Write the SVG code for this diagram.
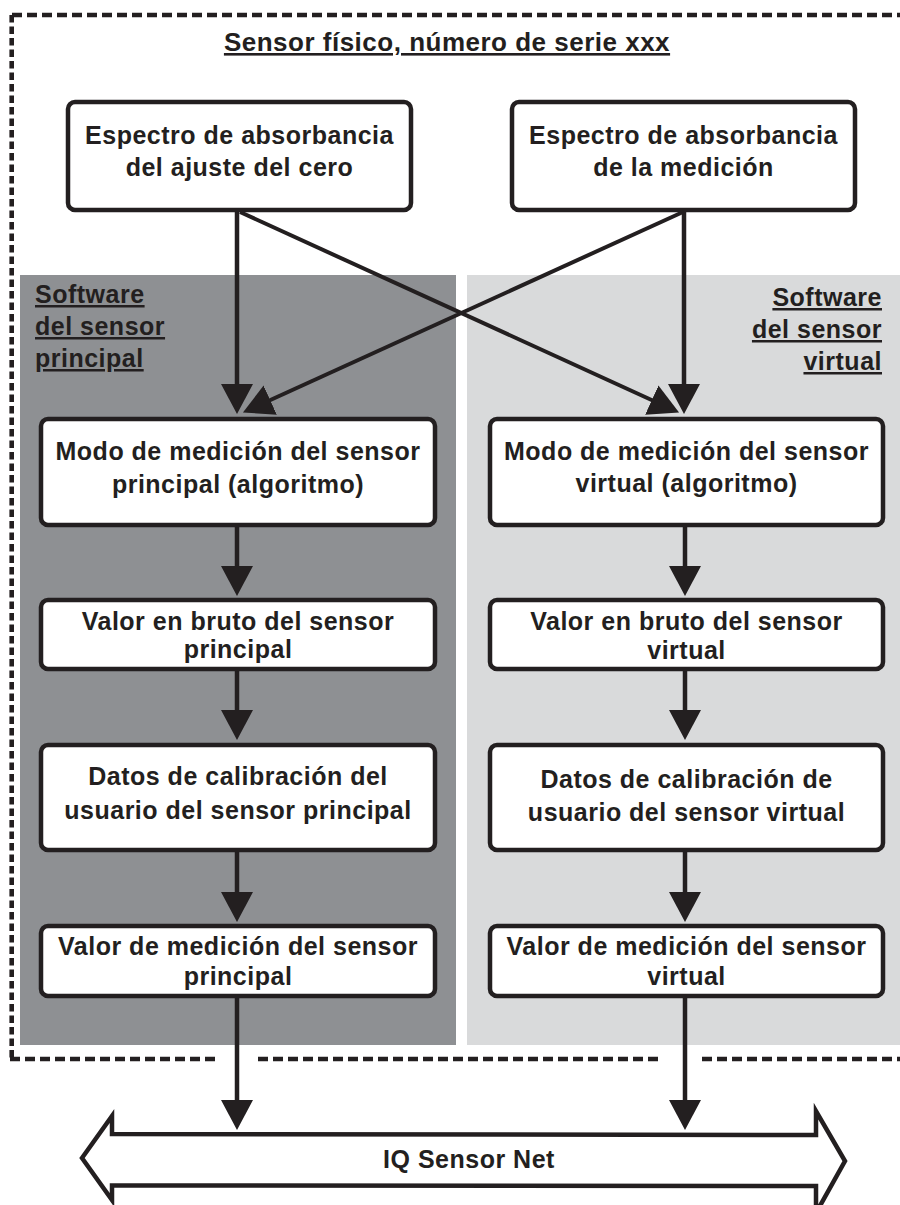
<svg xmlns="http://www.w3.org/2000/svg" width="900" height="1205" viewBox="0 0 900 1205">
<style>
text{font-family:"Liberation Sans",Arial,Helvetica,sans-serif;font-weight:bold;fill:#231f20;font-size:25px;letter-spacing:0.5px}
.c{text-anchor:middle}
.u{text-decoration:underline}
.box{fill:#fff;stroke:#231f20;stroke-width:4.5}
.ln{fill:none;stroke:#231f20;stroke-width:4.5;marker-end:url(#ah)}
.dg{fill:none;stroke:#231f20;stroke-width:4;marker-end:url(#ah)}
.dh{fill:none;stroke:#231f20;stroke-width:4.6;stroke-dasharray:10 5}
.dv{fill:none;stroke:#231f20;stroke-width:4.6;stroke-dasharray:7.5 4}
</style>
<defs>
<marker id="ah" markerUnits="userSpaceOnUse" markerWidth="34" markerHeight="34" viewBox="0 -17 34 34" refX="1" refY="0" orient="auto">
<path d="M0,-16 L30,0 L0,16 z" fill="#231f20"/>
</marker>
</defs>
<rect width="900" height="1205" fill="#fff"/>
<g id="panels">
<rect id="panel-principal" x="20" y="275" width="436" height="770" fill="#8e9093"/>
<rect id="panel-virtual" x="467" y="275" width="433" height="770" fill="#d9dadb"/>
</g>
<g id="border">
<line class="dh" x1="12" y1="15" x2="900" y2="15"/>
<line class="dv" x1="11.7" y1="15" x2="11.7" y2="1059"/>
<line class="dh" x1="10" y1="1059" x2="220" y2="1059"/>
<line class="dh" x1="258" y1="1059" x2="663" y2="1059"/>
<line class="dh" x1="702" y1="1059" x2="900" y2="1059"/>
</g>
<g id="title"><text class="c u" x="447" y="51" style="font-size:26px">Sensor físico, número de serie xxx</text></g>
<g id="label-principal">
<text class="u" x="35" y="303">Software</text>
<text class="u" x="35" y="335">del sensor</text>
<text class="u" x="35" y="367">principal</text>
</g>
<g id="label-virtual" style="text-anchor:end">
<text class="u" x="882" y="306">Software</text>
<text class="u" x="882" y="338">del sensor</text>
<text class="u" x="882" y="370">virtual</text>
</g>
<g id="connectors">
<line class="ln" x1="237" y1="212" x2="237" y2="385"/>
<line class="ln" x1="684" y1="212" x2="684" y2="385"/>
<line class="dg" x1="240" y1="212" x2="652.7" y2="400.5"/>
<line class="dg" x1="683" y1="212" x2="269.3" y2="400.5"/>
<line class="ln" x1="237" y1="527" x2="237" y2="567"/>
<line class="ln" x1="237" y1="671" x2="237" y2="711"/>
<line class="ln" x1="237" y1="852" x2="237" y2="893"/>
<line class="ln" x1="237" y1="998" x2="237" y2="1101"/>
<line class="ln" x1="685" y1="527" x2="685" y2="567"/>
<line class="ln" x1="685" y1="671" x2="685" y2="711"/>
<line class="ln" x1="685" y1="852" x2="685" y2="893"/>
<line class="ln" x1="685" y1="998" x2="685" y2="1101"/>
</g>
<g id="n-zero">
<rect class="box" x="68" y="102" width="343" height="108" rx="7"/>
<text class="c" x="239.5" y="144">Espectro de absorbancia</text>
<text class="c" x="239.5" y="176">del ajuste del cero</text>
</g>
<g id="n-medicion">
<rect class="box" x="512" y="102" width="343" height="108" rx="7"/>
<text class="c" x="683.5" y="144">Espectro de absorbancia</text>
<text class="c" x="683.5" y="176">de la medición</text>
</g>
<g id="n-modo-p">
<rect class="box" x="41" y="419" width="394" height="106" rx="7"/>
<text class="c" x="238" y="460">Modo de medición del sensor</text>
<text class="c" x="238" y="493">principal (algoritmo)</text>
</g>
<g id="n-bruto-p">
<rect class="box" x="41" y="600" width="394" height="69" rx="7"/>
<text class="c" x="238" y="630">Valor en bruto del sensor</text>
<text class="c" x="238" y="658">principal</text>
</g>
<g id="n-calib-p">
<rect class="box" x="41" y="745" width="394" height="105" rx="7"/>
<text class="c" x="238" y="785">Datos de calibración del</text>
<text class="c" x="238" y="819">usuario del sensor principal</text>
</g>
<g id="n-valor-p">
<rect class="box" x="41" y="926" width="394" height="70" rx="7"/>
<text class="c" x="238" y="955">Valor de medición del sensor</text>
<text class="c" x="238" y="985">principal</text>
</g>
<g id="n-modo-v">
<rect class="box" x="490" y="419" width="393" height="106" rx="7"/>
<text class="c" x="686.5" y="460">Modo de medición del sensor</text>
<text class="c" x="686.5" y="492">virtual (algoritmo)</text>
</g>
<g id="n-bruto-v">
<rect class="box" x="490" y="600" width="393" height="69" rx="7"/>
<text class="c" x="686.5" y="630">Valor en bruto del sensor</text>
<text class="c" x="686.5" y="659">virtual</text>
</g>
<g id="n-calib-v">
<rect class="box" x="490" y="745" width="393" height="105" rx="7"/>
<text class="c" x="686.5" y="788">Datos de calibración de</text>
<text class="c" x="686.5" y="821">usuario del sensor virtual</text>
</g>
<g id="n-valor-v">
<rect class="box" x="490" y="926" width="393" height="70" rx="7"/>
<text class="c" x="686.5" y="955">Valor de medición del sensor</text>
<text class="c" x="686.5" y="985">virtual</text>
</g>
<g id="n-bus">
<polygon points="82,1158 112,1116 112,1134 816,1135 816,1111 845,1161 816,1213 816,1186 112,1185.5 112,1200" fill="#fff" stroke="#231f20" stroke-width="4.5" stroke-linejoin="miter"/>
<text class="c" x="469" y="1168">IQ Sensor Net</text>
</g>
</svg>
